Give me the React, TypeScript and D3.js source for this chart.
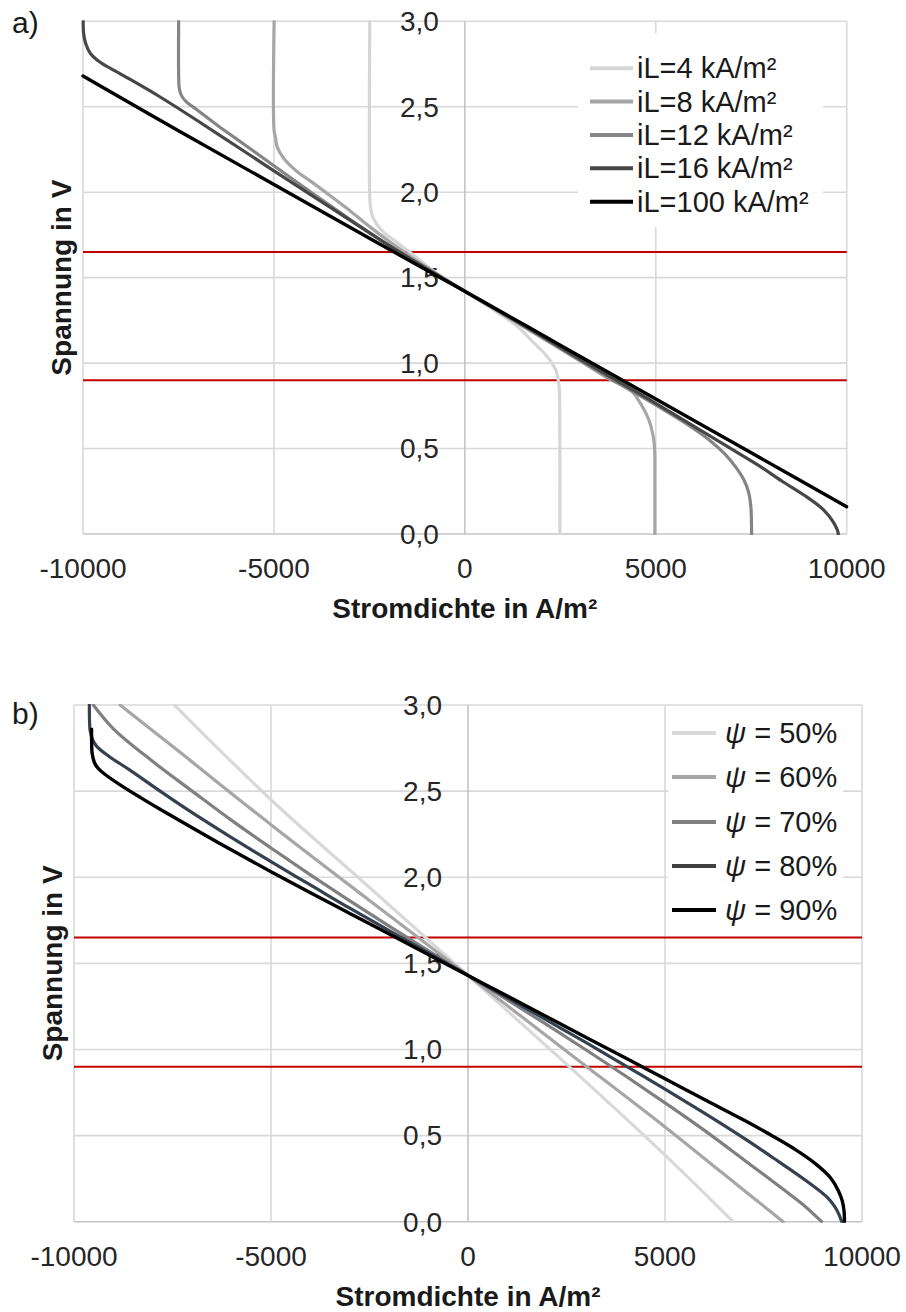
import React from "react";
import * as d3 from "d3";

type P = [number, number];

// ---------- shared axis data ----------
const xTicks = [-10000, -5000, 0, 5000, 10000];
const xTickLabels = ["-10000", "-5000", "0", "5000", "10000"];
const yTicks = [0, 0.5, 1, 1.5, 2, 2.5, 3];
const yTickLabels = ["0,0", "0,5", "1,0", "1,5", "2,0", "2,5", "3,0"];
const refLines = [1.65, 0.9];
const xTitle = "Stromdichte in A/m²";
const yTitle = "Spannung in V";

// ---------- panel a: limiting current density ----------
const aLabels = ["iL=4 kA/m²", "iL=8 kA/m²", "iL=12 kA/m²", "iL=16 kA/m²", "iL=100 kA/m²"];
const aColors = ["#d6d6d6", "#a6a6a6", "#858585", "#474747", "#000000"];

const aIL4: P[] = [
  [-2490, 3.0], [-2490, 1.97], [-2470, 1.91], [-2420, 1.86], [-2300, 1.81], [-2100, 1.76],
  [-1860, 1.72], [-1510, 1.66], [-1300, 1.625], [-1000, 1.57], [-500, 1.49], [0, 1.42],
  [500, 1.35], [1000, 1.275], [1400, 1.21], [1800, 1.12], [2050, 1.065], [2250, 1.01],
  [2380, 0.96], [2440, 0.91], [2475, 0.84], [2485, 0.72], [2488, 0.0],
];
const aIL8: P[] = [
  [-4995, 3.0], [-4995, 2.36], [-4960, 2.32], [-4915, 2.265], [-4740, 2.197], [-4390, 2.12],
  [-4040, 2.065], [-3500, 1.975], [-3000, 1.89], [-2500, 1.8], [-2000, 1.715], [-1000, 1.56],
  [0, 1.42], [1000, 1.285], [2000, 1.15], [3000, 1.015], [3800, 0.905], [4340, 0.842],
  [4600, 0.764], [4820, 0.667], [4935, 0.569], [4970, 0.49], [4975, 0.3], [4976, 0.0],
];
const aIL12: P[] = [
  [-7495, 3.0], [-7495, 2.68], [-7480, 2.61], [-7420, 2.565], [-7300, 2.53], [-7000, 2.48],
  [-6500, 2.395], [-6000, 2.315], [-5000, 2.155], [-4000, 1.995], [-3000, 1.84], [-2000, 1.69],
  [-1000, 1.553], [0, 1.42], [1000, 1.29], [2000, 1.155], [3000, 1.02], [4000, 0.885],
  [5000, 0.755], [5800, 0.645], [6400, 0.55], [6800, 0.47], [7100, 0.39], [7300, 0.32],
  [7430, 0.245], [7490, 0.16], [7505, 0.08], [7510, 0.0],
];
const aIL16: P[] = [
  [-9995, 3.0], [-9985, 2.93], [-9930, 2.87], [-9800, 2.81], [-9550, 2.76], [-9000, 2.69],
  [-8000, 2.56], [-7000, 2.418], [-6000, 2.272], [-5000, 2.125], [-4000, 1.98], [-3000, 1.835],
  [-2000, 1.69], [-1000, 1.553], [0, 1.42], [1000, 1.29], [2000, 1.16], [3000, 1.025],
  [4000, 0.895], [5000, 0.765], [6000, 0.63], [7000, 0.495], [7700, 0.4], [8300, 0.31],
  [8900, 0.225], [9400, 0.14], [9650, 0.07], [9760, 0.02], [9780, 0.0],
];
const aIL100: P[] = [
  [-10000, 2.68], [-7500, 2.36], [-5000, 2.045], [-2500, 1.73], [0, 1.42],
  [2500, 1.105], [5000, 0.79], [7500, 0.475], [10000, 0.16],
];

// ---------- panel b: relative humidity psi ----------
const bLabels = ["50%", "60%", "70%", "80%", "90%"];
const bColors = ["#d9d9d9", "#a6a6a6", "#808080", "#36414f", "#000000"];
const bLegendColors = ["#d9d9d9", "#a6a6a6", "#808080", "#404040", "#000000"];

const bPsi50: P[] = [
  [-7450, 3.0], [-5000, 2.45], [-2500, 1.94], [0, 1.43], [2500, 0.915], [5000, 0.387], [6730, 0.0],
];
const bPsi60: P[] = [
  [-8830, 3.0], [-7500, 2.76], [-5000, 2.305], [-2500, 1.865], [0, 1.43], [2500, 0.99],
  [5000, 0.55], [6500, 0.275], [8000, 0.0],
];
const bPsi70: P[] = [
  [-9509, 3.0], [-9000, 2.862], [-8000, 2.672], [-7000, 2.5], [-6000, 2.33], [-5000, 2.17],
  [-4000, 2.014], [-3000, 1.863], [-2000, 1.716], [-1000, 1.572], [0, 1.43], [1000, 1.288],
  [2000, 1.144], [3000, 0.997], [4000, 0.846], [5000, 0.69], [6000, 0.53], [7000, 0.36],
  [8000, 0.188], [8500, 0.1], [8976, 0.0],
];
const bPsi80: P[] = [
  [-9610, 3.0], [-9606, 2.91], [-9590, 2.85], [-9530, 2.8], [-9425, 2.76], [-9100, 2.7],
  [-8600, 2.625], [-7750, 2.49], [-7000, 2.375], [-6000, 2.23], [-5000, 2.09], [-4000, 1.955],
  [-3000, 1.82], [-2000, 1.69], [-1000, 1.56], [0, 1.43], [1000, 1.3], [2000, 1.17],
  [3000, 1.04], [4000, 0.905], [5000, 0.77], [6000, 0.63], [7000, 0.485], [7750, 0.37],
  [8600, 0.235], [9100, 0.145], [9300, 0.09], [9420, 0.04], [9484, 0.0],
];
const bPsi90: P[] = [
  [-9555, 2.86], [-9552, 2.78], [-9540, 2.72], [-9480, 2.665], [-9380, 2.63], [-9200, 2.595],
  [-8800, 2.532], [-8300, 2.461], [-7750, 2.386], [-7000, 2.287], [-6000, 2.158], [-5000, 2.032],
  [-4000, 1.91], [-3000, 1.79], [-2000, 1.67], [-1000, 1.55], [0, 1.43], [1000, 1.31],
  [2000, 1.19], [3000, 1.07], [4000, 0.95], [5000, 0.83], [6000, 0.71], [7000, 0.59],
  [7750, 0.495], [8300, 0.42], [8800, 0.34], [9200, 0.255], [9400, 0.18], [9500, 0.12],
  [9545, 0.06], [9555, 0.0],
];

const FONT = "'Liberation Sans', Arial, Helvetica, sans-serif";

type Series = { data: P[]; color: string; width: number };
type Box = { left: number; right: number; top: number; bottom: number };

function Panel(props: {
  id: string;
  box: Box;
  series: Series[];
  letter: string;
  letterY: number;
  yTitleX: number;
  legend: {
    x0: number; x1: number; tx: number; rows: number[];
    colors: string[]; labels: React.ReactNode[];
    rect: [number, number, number, number];
  };
}) {
  const { box, series, legend } = props;
  const x = d3.scaleLinear().domain([-10000, 10000]).range([box.left, box.right]);
  const y = d3.scaleLinear().domain([0, 3]).range([box.bottom, box.top]);
  const line = d3
    .line<P>()
    .x((d) => x(d[0]))
    .y((d) => y(d[1]))
    .curve(d3.curveCatmullRom.alpha(0.5));
  const x0 = x(0);
  return (
    <g>
      <defs>
        <clipPath id={props.id}>
          <rect x={box.left - 2} y={box.top - 1} width={box.right - box.left + 4} height={box.bottom - box.top + 2} />
        </clipPath>
      </defs>
      {yTicks.map((t) => (
        <line key={"h" + t} x1={box.left} x2={box.right} y1={y(t)} y2={y(t)}
          stroke={t === 0 ? "#c4c4c4" : "#d9d9d9"} strokeWidth={1.6} />
      ))}
      {xTicks.map((t) => (
        <line key={"v" + t} x1={x(t)} x2={x(t)} y1={box.top} y2={box.bottom}
          stroke={t === 0 ? "#c4c4c4" : "#d9d9d9"} strokeWidth={1.6} />
      ))}
      <rect x={legend.rect[0]} y={legend.rect[1]} width={legend.rect[2]} height={legend.rect[3]} fill="#ffffff" />
      {yTicks.map((t, i) => (
        <text key={"yl" + t} x={x0 - 26} y={y(t)} dy="0.35em" textAnchor="end"
          fontFamily={FONT} fontSize={28} fill="#262626">{yTickLabels[i]}</text>
      ))}
      {xTicks.map((t, i) => (
        <text key={"xl" + t} x={x(t)} y={box.bottom + 44} textAnchor="middle"
          fontFamily={FONT} fontSize={28} fill="#262626">{xTickLabels[i]}</text>
      ))}
      {refLines.map((r) => (
        <line key={"r" + r} x1={box.left} x2={box.right} y1={y(r)} y2={y(r)} stroke="#c00000" strokeWidth={2} />
      ))}
      <g clipPath={`url(#${props.id})`}>
        {series.map((s, i) => (
          <path key={"s" + i} d={line(s.data) || ""} fill="none" stroke={s.color}
            strokeWidth={s.width} strokeLinejoin="round" strokeLinecap="round" />
        ))}
      </g>
      {legend.rows.map((ry, i) => (
        <g key={"lg" + i}>
          <line x1={legend.x0} x2={legend.x1} y1={ry} y2={ry} stroke={legend.colors[i]} strokeWidth={4} />
          <text x={legend.tx} y={ry} dy="0.35em" fontFamily={FONT} fontSize={29} fill="#1a1a1a">{legend.labels[i]}</text>
        </g>
      ))}
      <text x={x0} y={box.bottom + 84} textAnchor="middle" fontFamily={FONT} fontSize={28}
        fontWeight="bold" fill="#1a1a1a">{xTitle}</text>
      <text transform={`translate(${props.yTitleX},${(box.top + box.bottom) / 2}) rotate(-90)`}
        textAnchor="middle" fontFamily={FONT} fontSize={28} fontWeight="bold" fill="#1a1a1a">{yTitle}</text>
      <text x={12} y={props.letterY} fontFamily={FONT} fontSize={30} fill="#1a1a1a">{props.letter}</text>
    </g>
  );
}

export default function App() {
  const aSeries: Series[] = [aIL4, aIL8, aIL12, aIL16, aIL100].map((d, i) => ({
    data: d, color: aColors[i], width: i === 4 ? 3.4 : 3.2,
  }));
  const bSeries: Series[] = [bPsi50, bPsi60, bPsi70, bPsi80, bPsi90].map((d, i) => ({
    data: d, color: bColors[i], width: i === 4 ? 3.4 : 3.2,
  }));
  const bLabelNodes = bLabels.map((l) => (
    <>
      <tspan fontStyle="italic">ψ</tspan>
      {" = " + l}
    </>
  ));
  return (
    <svg width={906} height={1312} viewBox="0 0 906 1312"
      style={{ position: "absolute", left: 0, top: 0, background: "#ffffff" }}>
      <rect x={0} y={0} width={906} height={1312} fill="#ffffff" />
      <Panel
        id="clipA"
        box={{ left: 83, right: 846.7, top: 21.3, bottom: 534 }}
        series={aSeries}
        letter="a)"
        letterY={33}
        yTitleX={71}
        legend={{
          x0: 590, x1: 633, tx: 637,
          rows: [68.3, 101.5, 135, 168.3, 201.7],
          colors: aColors, labels: aLabels,
          rect: [578, 33, 245, 194],
        }}
      />
      <Panel
        id="clipB"
        box={{ left: 74, right: 862, top: 705, bottom: 1221.7 }}
        series={bSeries}
        letter="b)"
        letterY={724}
        yTitleX={62}
        legend={{
          x0: 672, x1: 716, tx: 725,
          rows: [733, 777, 822, 866, 910],
          colors: bLegendColors, labels: bLabelNodes,
          rect: [668, 712, 175, 220],
        }}
      />
    </svg>
  );
}
